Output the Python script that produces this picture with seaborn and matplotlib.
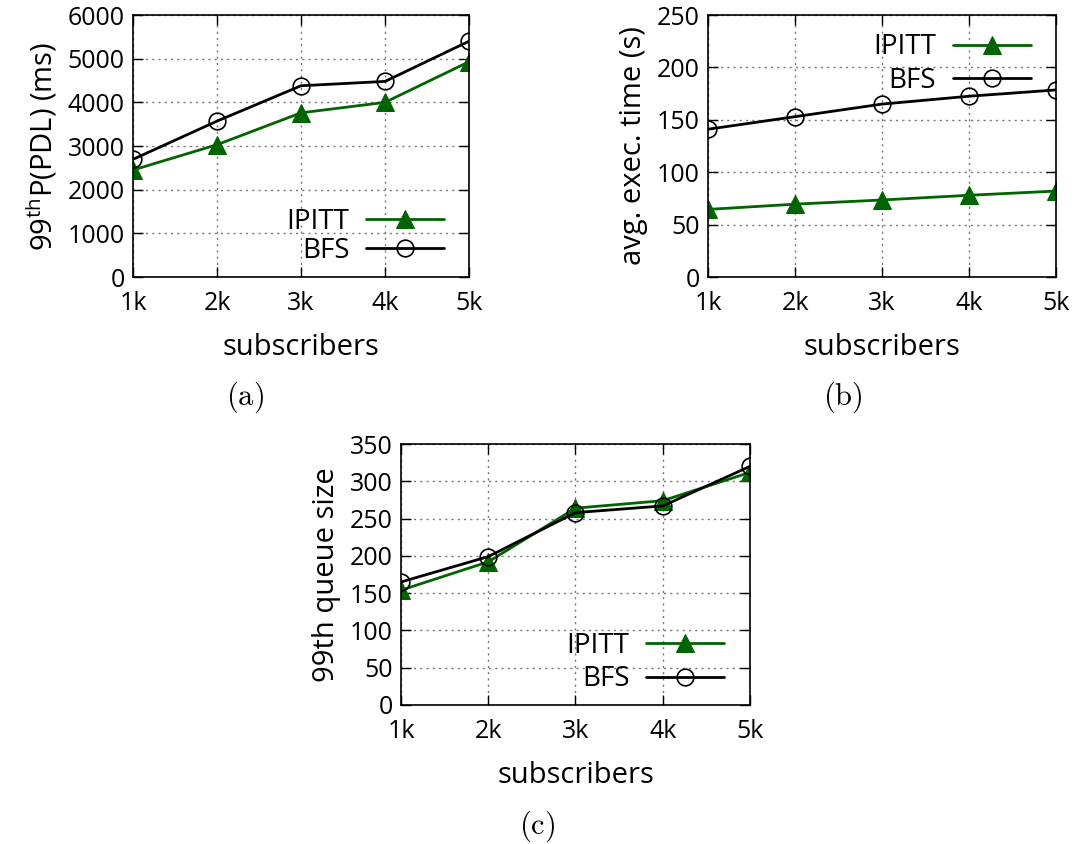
import matplotlib
matplotlib.use("Agg")
import matplotlib.pyplot as plt
import seaborn as sns
import pandas as pd

subscribers = [1000, 2000, 3000, 4000, 5000]
tick_labels = ["1k", "2k", "3k", "4k", "5k"]

# (a) 99th percentile PDL (ms)
pdl_ipitt = [2450, 3030, 3760, 4000, 4930]
pdl_bfs = [2695, 3570, 4380, 4480, 5400]

# (b) avg. exec. time (s)
exec_ipitt = [64.5, 69.5, 73.5, 78, 82]
exec_bfs = [141, 153, 165, 172.5, 178.5]

# (c) 99th queue size
queue_ipitt = [154, 192, 264, 274, 312]
queue_bfs = [165, 199, 258, 267, 320]

sns.set_style("ticks")
plt.rcParams["font.family"] = ["Open Sans", "DejaVu Sans"]
plt.rcParams["mathtext.fontset"] = "cm"
plt.rcParams["text.color"] = "black"
plt.rcParams["axes.labelcolor"] = "black"
plt.rcParams["xtick.color"] = "black"
plt.rcParams["ytick.color"] = "black"

GREEN = "#006400"

fig = plt.figure(figsize=(10.76, 8.44), dpi=100)
ax_a = fig.add_axes([0.1236, 0.6718, 0.3123, 0.3104])
ax_b = fig.add_axes([0.658, 0.6718, 0.3234, 0.3104])
ax_c = fig.add_axes([0.3727, 0.1647, 0.3243, 0.3092])


def draw(ax, ipitt, bfs, ymax, ystep, ylabel, legend_loc, anchor, spacing):
    df = pd.DataFrame({"subscribers": subscribers, "IPITT": ipitt, "BFS": bfs})
    sns.lineplot(data=df, x="subscribers", y="IPITT", ax=ax, color=GREEN, lw=2,
                 marker="^", markersize=13, markeredgecolor=GREEN, label="IPITT")
    sns.lineplot(data=df, x="subscribers", y="BFS", ax=ax, color="black", lw=2,
                 marker="o", markersize=12, markerfacecolor="none",
                 markeredgecolor="black", markeredgewidth=1.2, label="BFS")
    ax.set_xlim(1000, 5000)
    ax.set_ylim(0, ymax)
    ax.set_xticks(subscribers)
    ax.set_xticklabels(tick_labels)
    ax.set_yticks(range(0, ymax + 1, ystep))
    ax.tick_params(axis="both", direction="in", length=7, width=1, labelsize=18,
                   top=True, right=True, pad=6)
    ax.tick_params(axis="x", pad=10)
    for s in ax.spines.values():
        s.set_linewidth(1.2)
        s.set_color("black")
    ax.grid(True, color="#777777", linestyle=(0, (1.5, 3)), linewidth=1)
    ax.set_axisbelow(True)
    ax.set_xlabel("subscribers", fontsize=21, labelpad=12)
    ax.set_ylabel(ylabel, fontsize=21, labelpad=6)
    ax.legend(loc=legend_loc, bbox_to_anchor=anchor, frameon=False, markerfirst=False,
              fontsize=20, handlelength=2.8, handletextpad=0.6, labelspacing=spacing,
              borderpad=0, borderaxespad=0)


draw(ax_a, pdl_ipitt, pdl_bfs, 6000, 1000,
     r"$\mathregular{99^{th}}$P(PDL) (ms)", "lower right", (0.925, 0.045), 0.05)
draw(ax_b, exec_ipitt, exec_bfs, 250, 50,
     "avg. exec. time (s)", "upper right", (0.927, 0.93), 0.2)
draw(ax_c, queue_ipitt, queue_bfs, 350, 50,
     "99th queue size", "lower right", (0.925, 0.045), 0.2)

fig.text(245 / 1076, 1 - 397 / 844, r"$\mathrm{(a)}$", fontsize=22, ha="center", va="center")
fig.text(843 / 1076, 1 - 397 / 844, r"$\mathrm{(b)}$", fontsize=22, ha="center", va="center")
fig.text(537 / 1076, 1 - 826 / 844, r"$\mathrm{(c)}$", fontsize=22, ha="center", va="center")

fig.savefig("out.png", dpi=100)
